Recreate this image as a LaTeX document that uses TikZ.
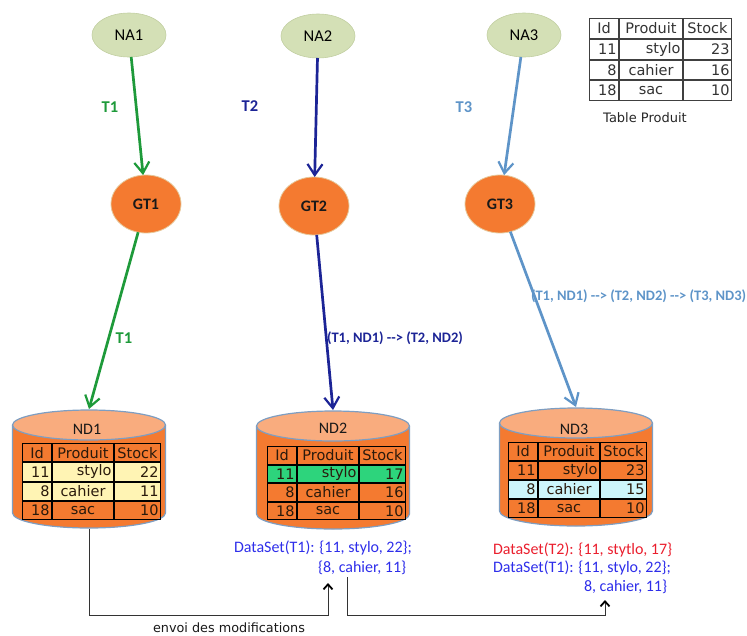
\documentclass[tikz,border=0pt]{standalone}
\usepackage{fontspec}
\setmainfont{Carlito}
\newfontfamily\vfont{DejaVu Sans}
\usetikzlibrary{shapes.geometric,arrows.meta,matrix}

\definecolor{cgreen}{HTML}{1E9A3A}
\definecolor{cdblue}{HTML}{1C2496}
\definecolor{csteel}{HTML}{5E94C8}
\definecolor{nafill}{HTML}{D4E0B6}
\definecolor{naline}{HTML}{C2CFA2}
\definecolor{gtfill}{HTML}{F47A30}
\definecolor{gtline}{HTML}{E6C89A}
\definecolor{cylbody}{HTML}{F47A30}
\definecolor{cyltop}{HTML}{F9AC7E}
\definecolor{cylline}{HTML}{7E9EC2}
\definecolor{rowyellow}{HTML}{FFF4B4}
\definecolor{rowgreen}{HTML}{2DD47C}
\definecolor{rowcyan}{HTML}{CDF6FB}
\definecolor{dsblue}{HTML}{2E2EEA}
\definecolor{dsred}{HTML}{EA1F2E}
\definecolor{tabtext}{HTML}{2A1A0C}

\tikzset{
  every node/.style={inner sep=0pt, outer sep=0pt},
  naell/.style={ellipse, fill=nafill, draw=naline, line width=0.6pt,
    minimum width=74pt, minimum height=44pt,
    font=\fontsize{16.5}{18}\selectfont, text=black},
  gtell/.style={ellipse, fill=gtfill, draw=gtline, line width=0.8pt,
    minimum width=70pt, minimum height=58pt,
    font=\bfseries\fontsize{16}{18}\selectfont, text=black!90},
  ndbox/.style={rectangle, minimum width=153pt, minimum height=120pt},
  cylface/.style={fill=cyltop, draw=cylline, line width=1.2pt},
  cylside/.style={draw=cylline, line width=1.2pt},
  ndlab/.style={font=\fontsize{16}{18}\selectfont, text=black!90},
  flow/.style={line width=2.7pt, -{Straight Barb[length=11pt,width=15pt,line width=2.2pt]}},
  tlab/.style={font=\bfseries\fontsize{16.5}{18}\selectfont},
  plab/.style={font=\bfseries\fontsize{14.5}{16}\selectfont, anchor=west},
  ds/.style={font=\fontsize{16}{18}\selectfont, anchor=west},
  conn/.style={draw=black!80, line width=1pt,
    -{Straight Barb[length=5pt,width=9pt,line width=1.8pt,color=black]}},
  ptab/.style={matrix of nodes, column sep=0pt, row sep=0pt, inner sep=0pt, outer sep=0pt,
    nodes={draw=black, line width=1pt, minimum height=#1, inner sep=0pt, inner xsep=2pt,
      font=\vfont\fontsize{14.5}{16}\selectfont, text=tabtext, anchor=center},
    column 1/.style={nodes={text width=25pt, align=right}},
    column 2/.style={nodes={text width=57pt, align=center}},
    column 3/.style={nodes={text width=42pt, align=right}},
    row 1/.style={nodes={align=center}}},
}

% cylinder drawing: #1 = centre x, #2 = y of the top ellipse centre
\newcommand{\drawcyl}[2]{%
  \fill[cylbody] ({#1-76.5},{#2}) -- ({#1-76.5},{#2+88})
    arc[start angle=180, end angle=360, x radius=76.5pt, y radius=15pt]
    -- ({#1+76.5},{#2}) -- cycle;
  \draw[cylside] ({#1-76.5},{#2}) -- ({#1-76.5},{#2+88})
    arc[start angle=180, end angle=360, x radius=76.5pt, y radius=15pt]
    -- ({#1+76.5},{#2});
  \path[cylface] ({#1},{#2}) ellipse[x radius=76.5pt, y radius=15pt];
}

\begin{document}
\begin{tikzpicture}[x=1pt,y=-1pt]
\useasboundingbox (0,0) rectangle (747,635);

% top nodes
\node[naell] (NA1) at (129,35) {NA1};
\node[naell] (NA2) at (318,36) {NA2};
\node[naell] (NA3) at (524,35) {NA3};

\node[gtell] (GT1) at (146,204) {GT1};
\node[gtell] (GT2) at (314,206) {GT2};
\node[gtell] (GT3) at (500,204) {GT3};

% cylinders
\drawcyl{89}{425}
\drawcyl{333}{426}
\drawcyl{576}{423}
\node[ndbox] (ND1) at (89,469) {};
\node[ndbox] (ND2) at (333,470) {};
\node[ndbox] (ND3) at (576,467) {};
\node[ndlab] (ND1t) at (87,429) {ND1};
\node[ndlab] (ND2t) at (333,428) {ND2};
\node[ndlab] (ND3t) at (574,429) {ND3};

% tables in cylinders
\matrix (tab1) [ptab=18.25pt, anchor=north west, row 2/.style={nodes={fill=rowyellow}},
  row 3/.style={nodes={fill=rowyellow}}] at (22,443) {
  Id & Produit & Stock \\
  11 & |[align=right]| stylo & 22 \\
  8 & cahier & 11 \\
  18 & sac & 10 \\
};
\matrix (tab2) [ptab=17.5pt, anchor=north west, row 2/.style={nodes={fill=rowgreen}}] at (267,446) {
  Id & Produit & Stock \\
  11 & |[align=right]| stylo & 17 \\
  8 & cahier & 16 \\
  18 & sac & 10 \\
};
\matrix (tab3) [ptab=18pt, anchor=north west, row 3/.style={nodes={fill=rowcyan}}] at (508,442) {
  Id & Produit & Stock \\
  11 & |[align=right]| stylo & 23 \\
  8 & cahier & 15 \\
  18 & sac & 10 \\
};

% reference table
\matrix (tab0) [ptab=19.75pt, anchor=north west,
  nodes={fill=white, text=black!80, draw=black!75},
  column 2/.style={nodes={text width=59pt, align=center}},
  column 3/.style={nodes={text width=44pt, align=right}}] at (589,18) {
  Id & Produit & Stock \\
  11 & |[align=right]| stylo & 23 \\
  8 & cahier & 16 \\
  18 & sac & 10 \\
};
\node[font=\vfont\fontsize{13}{15}\selectfont, text=black!85] (tabcap) at (645,118) {Table Produit};

% flows
\draw[flow, cgreen] (NA1) -- (GT1);
\draw[flow, cgreen] (GT1) -- (ND1.north);
\draw[flow, cdblue] (NA2) -- (GT2);
\draw[flow, cdblue] (GT2) -- (ND2.north);
\draw[flow, csteel] (NA3) -- (GT3);
\draw[flow, csteel] (GT3) -- (ND3.north);

\node[tlab, text=cgreen] (l1) at (110,107) {T1};
\node[tlab, text=cdblue] (l2) at (250,106) {T2};
\node[tlab, text=csteel] (l3) at (464,107) {T3};
\node[tlab, text=cgreen] (l4) at (124,338) {T1};
\node[plab, text=cdblue] (l5) at (327,338) {(T1, ND1) -{}-> (T2, ND2)};
\node[plab, text=csteel] (l6) at (531,296) {(T1, ND1) -{}-> (T2, ND2) -{}-> (T3, ND3)};

% datasets
\node[ds, text=dsblue] (ds2a) at (234,548) {DataSet(T1): \{11, stylo, 22\};};
\node[ds, text=dsblue] (ds2b) at (318,568) {\{8, cahier, 11\}};
\node[ds, text=dsred] (ds3a) at (493,550) {DataSet(T2): \{11, stytlo, 17\}};
\node[ds, text=dsblue] (ds3b) at (493,568) {DataSet(T1): \{11, stylo, 22\};};
\node[ds, text=dsblue] (ds3c) at (584,587) {8, cahier, 11\}};

% modification connectors
\coordinate (c1) at (328,615);
\coordinate (e1) at (328,583);
\coordinate (s2) at (347,577);
\coordinate (c2) at (347,615);
\coordinate (c3) at (605,615);
\coordinate (e2) at (605,600);
\draw[conn] (ND1.south) |- (c1) -- (e1);
\draw[conn] (s2) -- (c2) -- (c3) -- (e2);
\node[font=\vfont\fontsize{12.8}{14}\selectfont, text=black!90] (envoi) at (229,628) {envoi des modifications};
\end{tikzpicture}
\end{document}
